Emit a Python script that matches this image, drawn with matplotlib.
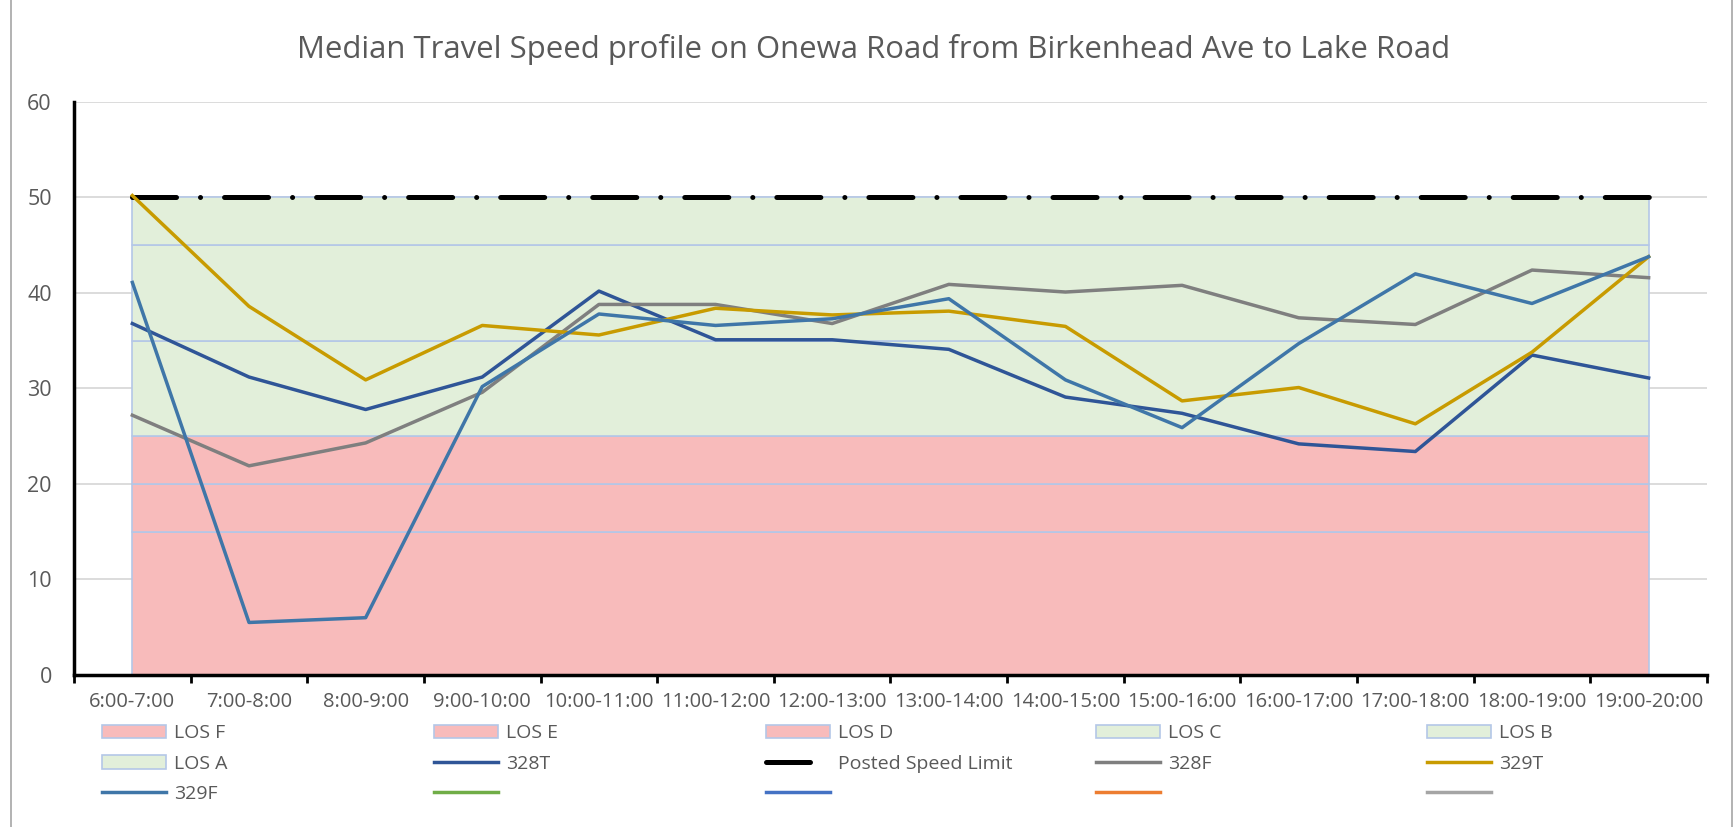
import matplotlib.pyplot as plt
from matplotlib.lines import Line2D

plt.rcParams['font.family'] = ['Open Sans', 'DejaVu Sans']

hours = ["6:00-7:00", "7:00-8:00", "8:00-9:00", "9:00-10:00", "10:00-11:00",
         "11:00-12:00", "12:00-13:00", "13:00-14:00", "14:00-15:00", "15:00-16:00",
         "16:00-17:00", "17:00-18:00", "18:00-19:00", "19:00-20:00"]

# level of service bands (stacked thickness, km/h)
los_names = ["LOS F", "LOS E", "LOS D", "LOS C", "LOS B", "LOS A"]
los_sizes = [15, 5, 5, 10, 10, 5]
los_colors = ["#F8BBBB", "#F8BBBB", "#F8BBBB", "#E2EFDA", "#E2EFDA", "#E2EFDA"]

speed_limit = [50] * len(hours)

s328T = [36.8, 31.2, 27.8, 31.2, 40.2, 35.1, 35.1, 34.1, 29.1, 27.4, 24.2, 23.4, 33.5, 31.1]
s328F = [27.2, 21.9, 24.3, 29.6, 38.8, 38.8, 36.8, 40.9, 40.1, 40.8, 37.4, 36.7, 42.4, 41.6]
s329T = [50.2, 38.6, 30.9, 36.6, 35.6, 38.4, 37.7, 38.1, 36.5, 28.7, 30.1, 26.3, 33.8, 43.8]
s329F = [41.1, 5.5, 6.0, 30.2, 37.8, 36.6, 37.3, 39.4, 30.9, 25.9, 34.7, 42.0, 38.9, 43.8]

txt = "#595959"

fig = plt.figure(figsize=(17.34, 8.27), dpi=100)
ax = fig.add_axes([0.0427, 0.1838, 0.9417, 0.6929])

x = list(range(len(hours)))
polys = ax.stackplot(x, *[[v] * len(hours) for v in los_sizes], colors=los_colors,
                     edgecolor="#B4C7E7", linewidth=1.2, zorder=2)

l1, = ax.plot(x, s328T, color="#2F5597", lw=2.5, zorder=4)
l2, = ax.plot(x, speed_limit, color="black", lw=3.6, zorder=3,
              dashes=(8.8, 4.8, 0.01, 4.8), dash_capstyle="round")
l3, = ax.plot(x, s328F, color="#7F7F7F", lw=2.5, zorder=4)
l4, = ax.plot(x, s329T, color="#C89B00", lw=2.5, zorder=4)
l5, = ax.plot(x, s329F, color="#3F76A8", lw=2.5, zorder=4)
e1, = ax.plot([], [], color="#70AD47", lw=2.5)
e2, = ax.plot([], [], color="#4472C4", lw=2.5)
e3, = ax.plot([], [], color="#ED7D31", lw=2.5)
e4, = ax.plot([], [], color="#A5A5A5", lw=2.5)

ax.set_xlim(-0.5, len(hours) - 0.5)
ax.set_ylim(0, 60)
ax.set_yticks(range(0, 61, 10))
ax.yaxis.grid(True, color="#D9D9D9", lw=1.3, zorder=0)
ax.set_axisbelow(True)
ax.tick_params(axis="y", length=0, pad=16, labelsize=15.5, labelcolor=txt)

ax.set_xticks([i - 0.5 for i in range(len(hours) + 1)])
ax.set_xticklabels([])
ax.set_xticks(x, minor=True)
ax.set_xticklabels(hours, minor=True)
ax.tick_params(axis="x", which="major", length=6, width=2, color="black", direction="out")
ax.tick_params(axis="x", which="minor", length=0, pad=12, labelsize=14.5, labelcolor=txt)

for s in ["top", "right"]:
    ax.spines[s].set_visible(False)
ax.spines["left"].set_linewidth(2.5)
ax.spines["bottom"].set_linewidth(2.5)

fig.text(0.5035, 0.94, "Median Travel Speed profile on Onewa Road from Birkenhead Ave to Lake Road",
         ha="center", va="center", fontsize=22.4, color=txt)

handles = list(polys) + [l1, l2, l3, l4, l5, e1, e2, e3, e4]
labels = los_names + ["328T", "Posted Speed Limit", "328F", "329T", "329F", "", "", "", ""]

col_x = [0.0588, 0.2503, 0.4418, 0.6321, 0.8230]
for c in range(5):
    hs = [handles[r * 5 + c] for r in range(3)]
    ls = [labels[r * 5 + c] for r in range(3)]
    fig.legend(hs, ls, loc="upper left", bbox_to_anchor=(col_x[c], 0.124), frameon=False,
               fontsize=14, labelcolor=txt, handlelength=3.3, handletextpad=0.4,
               labelspacing=0.62, borderpad=0, borderaxespad=0)

for fx in [11 / 1734, 1732 / 1734]:
    fig.add_artist(Line2D([fx, fx], [0, 1], color="#A6A6A6", lw=1.2))

fig.savefig("out.png", dpi=100)
